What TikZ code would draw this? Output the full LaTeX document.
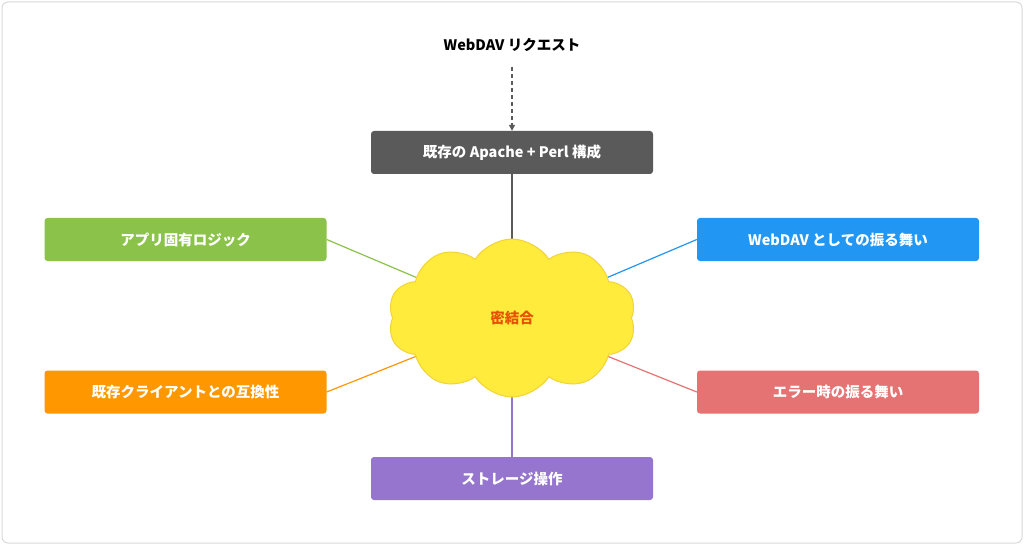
\documentclass[tikz,border=0pt]{standalone}
\usepackage{fontspec}
\setmainfont{Noto Sans CJK JP}
\usetikzlibrary{shapes.symbols,backgrounds,arrows.meta}
\definecolor{cdark}{HTML}{5A5A5A}
\definecolor{cgreen}{HTML}{8BC34A}
\definecolor{cblue}{HTML}{2196F3}
\definecolor{corange}{HTML}{FF9800}
\definecolor{cred}{HTML}{E57373}
\definecolor{cpurple}{HTML}{9575CD}
\definecolor{cyel}{HTML}{FFEB3B}
\definecolor{cyelb}{HTML}{F2D33A}
\definecolor{ctxt}{HTML}{E65100}
\begin{document}
\begin{tikzpicture}[x=1pt,y=-1pt,
  box/.style={rounded corners=3pt,minimum width=282pt,minimum height=43pt,text=white,font=\fontsize{14.5}{16}\selectfont\bfseries,inner sep=0pt},
  link/.style={line width=1.2pt}]
\useasboundingbox (0,0) rectangle (1024,545);
\node[font=\fontsize{14.5}{16}\selectfont\bfseries] (title) at (512,45) {WebDAV リクエスト};
\node[box,fill=cdark] (apache) at (512,152.5) {既存の Apache + Perl 構成};
\node[box,fill=cgreen] (app) at (185.5,239.5) {アプリ固有ロジック};
\node[box,fill=cblue] (dav) at (838,239.5) {WebDAV としての振る舞い};
\node[box,fill=corange] (compat) at (185.5,392) {既存クライアントとの互換性};
\node[box,fill=cred] (err) at (838,392) {エラー時の振る舞い};
\node[box,fill=cpurple] (stor) at (512,478.5) {ストレージ操作};
\node[cloud,cloud puffs=10,cloud puff arc=115,aspect=1.6,minimum width=248pt,minimum height=158pt,fill=cyel,draw=cyelb,line width=1pt,text=ctxt,font=\fontsize{14.5}{16}\selectfont\bfseries] (cloud) at (512,318) {密結合};
\coordinate (arrtop) at (512,67);
\draw[dash pattern=on 4pt off 3pt,draw=cdark,line width=1.2pt,-{Triangle[length=6pt,width=6pt]}] (arrtop) -- (apache.north);
\begin{scope}[on background layer]
\draw[rounded corners=6pt,draw=black!15,line width=1pt,fill=white] (2,2) rectangle (1022,543);
\draw[link,draw=cdark] (apache.south) -- (cloud.center);
\draw[link,draw=cgreen] (app.east) -- (cloud.center);
\draw[link,draw=cblue] (dav.west) -- (cloud.center);
\draw[link,draw=corange] (compat.east) -- (cloud.center);
\draw[link,draw=cred] (err.west) -- (cloud.center);
\draw[link,draw=cpurple] (stor.north) -- (cloud.center);
\end{scope}
\end{tikzpicture}
\end{document}
